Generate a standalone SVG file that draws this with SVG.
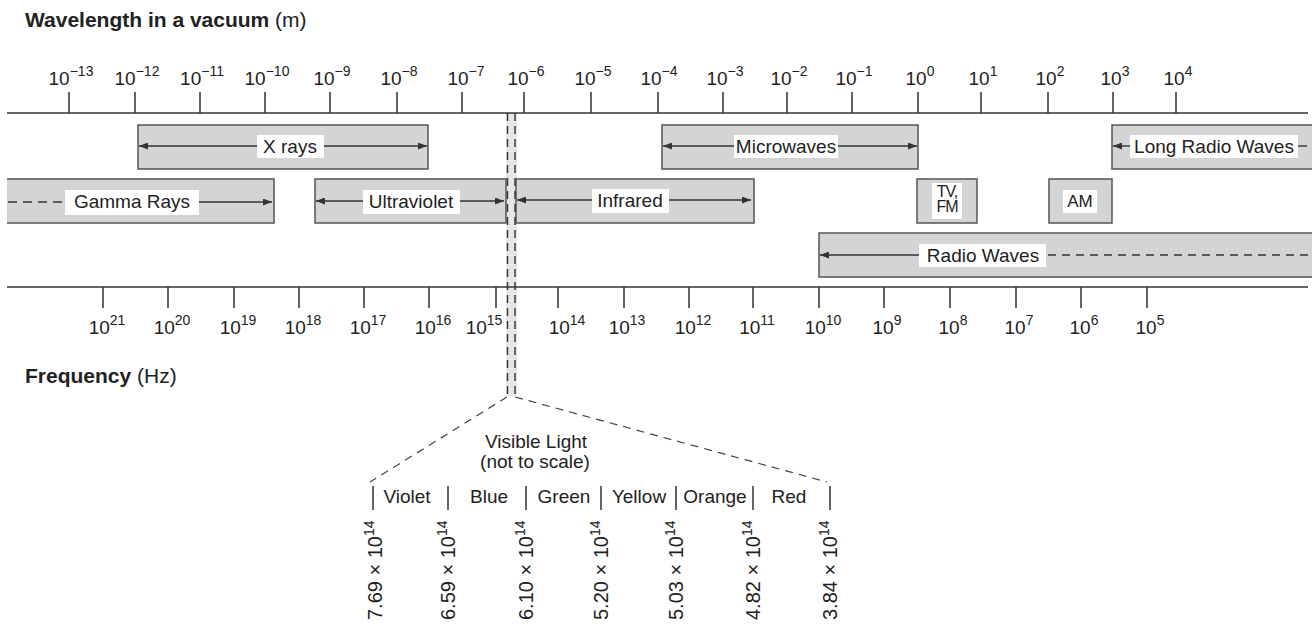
<svg xmlns="http://www.w3.org/2000/svg" width="1312" height="624" viewBox="0 0 1312 624">
<style>
text{font-family:"Liberation Sans",Arial,sans-serif;fill:#222}
.t{font-size:19px;text-anchor:middle}
.sup{font-size:14px}
.lbl{font-size:19px;text-anchor:middle}
.ax{stroke:#333;stroke-width:1.5;fill:none}
.band{fill:#d3d4d5;stroke:#555;stroke-width:1.5}
.bfill{fill:#d3d4d5}
.bedge{fill:none;stroke:#555;stroke-width:1.5}
.wb{fill:#fff}
.arr{stroke:#333;stroke-width:1.4;fill:none}
.dash{stroke:#333;stroke-width:1.4;fill:none;stroke-dasharray:9 6}
.vd{stroke:#333;stroke-width:1.4;fill:none;stroke-dasharray:8 5}
.fan{stroke:#444;stroke-width:1.2;fill:none;stroke-dasharray:8 6}
.sep{stroke:#333;stroke-width:1.5}
.rot{font-size:20px}
</style>
<defs>
<marker id="ah" markerUnits="userSpaceOnUse" markerWidth="9" markerHeight="7" refX="9" refY="3.5" orient="auto-start-reverse">
<path d="M0,0 L9,3.5 L0,7 z" fill="#333"/>
</marker>
</defs>
<rect width="1312" height="624" fill="#fff"/>

<g id="titles">
<text x="25" y="27" font-size="21"><tspan font-weight="bold">Wavelength in a vacuum</tspan> (m)</text>
<text x="25" y="383" font-size="21"><tspan font-weight="bold">Frequency</tspan> (Hz)</text>
</g>

<g id="visible-strip">
<rect x="506" y="113" width="11" height="283" fill="#e6e6e6"/>
</g>

<g id="wavelength-axis">
<line class="ax" x1="7" y1="113" x2="1308" y2="113"/>
<path class="ax" d="M69,92V113 M135,92V113 M200,92V113 M265,92V113 M330,92V113 M397,92V113 M462,92V113 M524,92V113 M591,92V113 M658,92V113 M723,92V113 M787,92V113 M852,92V113 M918,92V113 M981,92V113 M1048,92V113 M1113,92V113 M1176,92V113"/>
<text class="t" x="71" y="85">10<tspan class="sup" dy="-9">−13</tspan></text>
<text class="t" x="137" y="85">10<tspan class="sup" dy="-9">−12</tspan></text>
<text class="t" x="202" y="85">10<tspan class="sup" dy="-9">−11</tspan></text>
<text class="t" x="267" y="85">10<tspan class="sup" dy="-9">−10</tspan></text>
<text class="t" x="332" y="85">10<tspan class="sup" dy="-9">−9</tspan></text>
<text class="t" x="399" y="85">10<tspan class="sup" dy="-9">−8</tspan></text>
<text class="t" x="466" y="85">10<tspan class="sup" dy="-9">−7</tspan></text>
<text class="t" x="526" y="85">10<tspan class="sup" dy="-9">−6</tspan></text>
<text class="t" x="593" y="85">10<tspan class="sup" dy="-9">−5</tspan></text>
<text class="t" x="659" y="85">10<tspan class="sup" dy="-9">−4</tspan></text>
<text class="t" x="725" y="85">10<tspan class="sup" dy="-9">−3</tspan></text>
<text class="t" x="789" y="85">10<tspan class="sup" dy="-9">−2</tspan></text>
<text class="t" x="854" y="85">10<tspan class="sup" dy="-9">−1</tspan></text>
<text class="t" x="920" y="85">10<tspan class="sup" dy="-9">0</tspan></text>
<text class="t" x="983" y="85">10<tspan class="sup" dy="-9">1</tspan></text>
<text class="t" x="1050" y="85">10<tspan class="sup" dy="-9">2</tspan></text>
<text class="t" x="1115" y="85">10<tspan class="sup" dy="-9">3</tspan></text>
<text class="t" x="1178" y="85">10<tspan class="sup" dy="-9">4</tspan></text>
</g>

<g id="frequency-axis">
<line class="ax" x1="7" y1="287" x2="1308" y2="287"/>
<path class="ax" d="M103,287V308 M168,287V308 M234,287V308 M299,287V308 M364,287V308 M429,287V308 M496,287V308 M558,287V308 M624,287V308 M689,287V308 M753,287V308 M819,287V308 M884,287V308 M950,287V308 M1016,287V308 M1081,287V308 M1147,287V308"/>
<text class="t" x="107" y="334">10<tspan class="sup" dy="-9">21</tspan></text>
<text class="t" x="172" y="334">10<tspan class="sup" dy="-9">20</tspan></text>
<text class="t" x="238" y="334">10<tspan class="sup" dy="-9">19</tspan></text>
<text class="t" x="303" y="334">10<tspan class="sup" dy="-9">18</tspan></text>
<text class="t" x="368" y="334">10<tspan class="sup" dy="-9">17</tspan></text>
<text class="t" x="433" y="334">10<tspan class="sup" dy="-9">16</tspan></text>
<text class="t" x="484" y="334">10<tspan class="sup" dy="-9">15</tspan></text>
<text class="t" x="567" y="334">10<tspan class="sup" dy="-9">14</tspan></text>
<text class="t" x="627" y="334">10<tspan class="sup" dy="-9">13</tspan></text>
<text class="t" x="693" y="334">10<tspan class="sup" dy="-9">12</tspan></text>
<text class="t" x="757" y="334">10<tspan class="sup" dy="-9">11</tspan></text>
<text class="t" x="823" y="334">10<tspan class="sup" dy="-9">10</tspan></text>
<text class="t" x="887" y="334">10<tspan class="sup" dy="-9">9</tspan></text>
<text class="t" x="953" y="334">10<tspan class="sup" dy="-9">8</tspan></text>
<text class="t" x="1019" y="334">10<tspan class="sup" dy="-9">7</tspan></text>
<text class="t" x="1084" y="334">10<tspan class="sup" dy="-9">6</tspan></text>
<text class="t" x="1150" y="334">10<tspan class="sup" dy="-9">5</tspan></text>
</g>

<g id="x-rays">
<rect class="band" x="138" y="125" width="290" height="44"/>
<line class="arr" x1="139" y1="146" x2="427" y2="146" marker-start="url(#ah)" marker-end="url(#ah)"/>
<rect class="wb" x="257" y="135" width="67" height="23"/>
<text class="lbl" x="290" y="153">X rays</text>
</g>

<g id="microwaves">
<rect class="band" x="662" y="125" width="256" height="44"/>
<line class="arr" x1="663" y1="146" x2="917" y2="146" marker-start="url(#ah)" marker-end="url(#ah)"/>
<rect class="wb" x="734" y="135" width="104" height="23"/>
<text class="lbl" x="786" y="153">Microwaves</text>
</g>

<g id="long-radio-waves">
<rect class="bfill" x="1112" y="125" width="202" height="44"/>
<path class="bedge" d="M1314,125H1112V169H1314"/>
<line class="arr" x1="1113" y1="146" x2="1131" y2="146" marker-start="url(#ah)"/>
<line class="arr" x1="1298" y1="146" x2="1307" y2="146"/>
<rect class="wb" x="1130" y="135" width="168" height="23"/>
<text class="lbl" x="1214" y="153">Long Radio Waves</text>
</g>

<g id="gamma-rays">
<rect class="bfill" x="7" y="179" width="267" height="44"/>
<path class="bedge" d="M7,179H274V223H7"/>
<line class="dash" x1="8" y1="202" x2="65" y2="202"/>
<line class="arr" x1="199" y1="202" x2="272" y2="202" marker-end="url(#ah)"/>
<rect class="wb" x="65" y="190" width="134" height="25"/>
<text class="lbl" x="132" y="208">Gamma Rays</text>
</g>

<g id="ultraviolet">
<rect class="band" x="315" y="179" width="191" height="44"/>
<line class="arr" x1="316" y1="201" x2="504" y2="201" marker-start="url(#ah)" marker-end="url(#ah)"/>
<rect class="wb" x="363" y="190" width="97" height="24"/>
<text class="lbl" x="411" y="208">Ultraviolet</text>
</g>

<g id="infrared">
<rect class="band" x="516" y="179" width="238" height="44"/>
<line class="arr" x1="517" y1="200" x2="751" y2="200" marker-start="url(#ah)" marker-end="url(#ah)"/>
<rect class="wb" x="592" y="189" width="77" height="24"/>
<text class="lbl" x="630" y="207">Infrared</text>
</g>

<g id="tv-fm">
<rect class="band" x="917" y="179" width="60" height="44"/>
<rect class="wb" x="932" y="183" width="30" height="36"/>
<text x="947" y="197" font-size="16" text-anchor="middle" letter-spacing="-1">TV,</text>
<text x="947" y="212" font-size="16" text-anchor="middle" letter-spacing="-1">FM</text>
</g>

<g id="am">
<rect class="band" x="1049" y="179" width="63" height="44"/>
<rect class="wb" x="1063" y="190" width="34" height="23"/>
<text x="1080" y="207" font-size="17" text-anchor="middle">AM</text>
</g>

<g id="radio-waves">
<rect class="bfill" x="819" y="233" width="495" height="44"/>
<path class="bedge" d="M1314,233H819V277H1314"/>
<line class="arr" x1="820" y1="255" x2="920" y2="255" marker-start="url(#ah)"/>
<line class="dash" x1="1048" y1="255" x2="1312" y2="255" style="stroke-dasharray:8 6"/>
<rect class="wb" x="919" y="244" width="127" height="23"/>
<text class="lbl" x="983" y="262">Radio Waves</text>
</g>

<g id="connectors">
<line class="vd" x1="507.5" y1="113" x2="507.5" y2="396"/>
<line class="vd" x1="515" y1="113" x2="515" y2="396"/>
<line class="fan" x1="507" y1="397" x2="370" y2="482"/>
<line class="fan" x1="515" y1="397" x2="827" y2="482"/>
</g>

<g id="visible-light">
<text class="lbl" x="536" y="448">Visible Light</text>
<text class="lbl" x="535" y="468">(not to scale)</text>
<path class="sep" d="M373,486V510 M448,486V510 M526,486V510 M601,486V510 M676,486V510 M753,486V510 M830,486V510"/>
<text class="lbl" x="407" y="503">Violet</text>
<text class="lbl" x="489" y="503">Blue</text>
<text class="lbl" x="564" y="503">Green</text>
<text class="lbl" x="639" y="503">Yellow</text>
<text class="lbl" x="715" y="503">Orange</text>
<text class="lbl" x="789" y="503">Red</text>
<text class="rot" transform="translate(382,620) rotate(-90)">7.69 × 10<tspan font-size="14" dy="-8">14</tspan></text>
<text class="rot" transform="translate(455,620) rotate(-90)">6.59 × 10<tspan font-size="14" dy="-8">14</tspan></text>
<text class="rot" transform="translate(533,620) rotate(-90)">6.10 × 10<tspan font-size="14" dy="-8">14</tspan></text>
<text class="rot" transform="translate(608,620) rotate(-90)">5.20 × 10<tspan font-size="14" dy="-8">14</tspan></text>
<text class="rot" transform="translate(683,620) rotate(-90)">5.03 × 10<tspan font-size="14" dy="-8">14</tspan></text>
<text class="rot" transform="translate(760,620) rotate(-90)">4.82 × 10<tspan font-size="14" dy="-8">14</tspan></text>
<text class="rot" transform="translate(837,620) rotate(-90)">3.84 × 10<tspan font-size="14" dy="-8">14</tspan></text>
</g>
</svg>
